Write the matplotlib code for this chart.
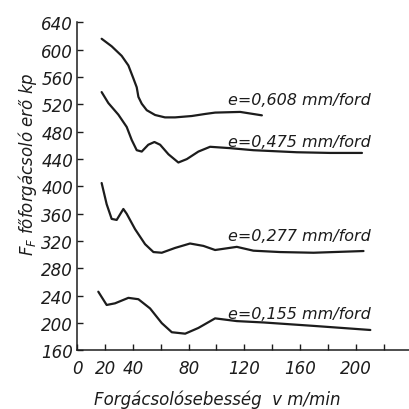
import numpy as np
import matplotlib.pyplot as plt

# --- dati ---
v_608 = [17.5, 24.7, 31.9, 36.7, 40.3, 42.7, 43.9, 46.3, 49.9, 55.9, 63, 70.2, 82.2, 91.8, 99, 117, 132.6]
f_608 = [616, 605, 591, 577, 558, 545, 531, 521, 511.5, 504.5, 501, 501, 503, 506, 508, 509, 504]

v_475 = [17.5, 22.3, 29.5, 35.5, 39.1, 42.7, 46.3, 51, 55.4, 59.5, 65.5, 72.6, 78.7, 87, 95.4,
         109.8, 126.5, 157.7, 181.7, 204.5]
f_475 = [538, 522, 505, 487, 468, 453, 451, 461, 465, 461, 447, 435, 440, 451, 458,
         456, 453, 450, 449, 449]

v_277 = [17.5, 21.1, 24.7, 28.3, 33.1, 35.5, 41.5, 48.7, 54.7, 60.7, 70.2, 81, 90.6, 99,
         114.6, 126.5, 145.7, 169.7, 205.6]
f_277 = [405, 374, 352.5, 351, 367, 360, 337.5, 315.5, 304, 303, 310, 316.5, 313, 307,
         311.6, 306, 304, 303, 305.5]

v_155 = [15.1, 21.1, 27.1, 36.7, 43.9, 52.3, 60.7, 67.9, 77.5, 87, 99, 114.6, 133.8, 169.7, 210.5]
f_155 = [246, 226.6, 229, 237, 235, 221.5, 200, 186.7, 184.6, 193, 207, 203, 201, 196, 190]

etichette = ["e=0,608 mm/ford", "e=0,475 mm/ford", "e=0,277 mm/ford", "e=0,155 mm/ford"]
etich_y = [520, 459, 321, 207]

x_ticks = np.arange(0, 221, 20)
x_labels = ["0", "20", "40", "", "80", "", "120", "", "160", "", "200", ""]
y_ticks = np.arange(160, 641, 40)

ink = "#1c1c1c"
fig = plt.figure(figsize=(4.1, 4.1), dpi=100)
ax = fig.add_axes([0.1885, 0.1427, 0.8115, 0.8003])

for v, f in [(v_608, f_608), (v_475, f_475), (v_277, f_277), (v_155, f_155)]:
    ax.plot(v, f, color=ink, lw=1.6, solid_capstyle='round', solid_joinstyle='round')

for txt, y in zip(etichette, etich_y):
    ax.text(108.5, y, txt, fontsize=11.5, style='italic', color=ink, va='baseline', ha='left')

ax.set_xlim(0, 239)
ax.set_ylim(160, 640)
ax.set_xticks(x_ticks)
ax.set_xticklabels(x_labels)
ax.set_yticks(y_ticks)
ax.set_yticklabels([str(t) for t in y_ticks])
for s in ['top', 'right']:
    ax.spines[s].set_visible(False)
for s in ['left', 'bottom']:
    ax.spines[s].set_color(ink)
    ax.spines[s].set_linewidth(1.1)
ax.tick_params(direction='in', length=4, width=1, colors=ink, labelsize=12)
ax.tick_params(axis='x', pad=6)
ax.tick_params(axis='y', pad=3)
for lab in ax.get_xticklabels() + ax.get_yticklabels():
    lab.set_style('italic')

fig.text(0.53, 0.024, "Forgácsolósebesség  v m/min", ha='center', va='center',
         fontsize=12, style='italic', color=ink)
fig.text(0.068, 0.6, r"$F_F$ főforgácsoló erő kp", ha='center', va='center', rotation=90,
         fontsize=12, style='italic', color=ink)

fig.savefig("out.png", dpi=100, facecolor='white')
